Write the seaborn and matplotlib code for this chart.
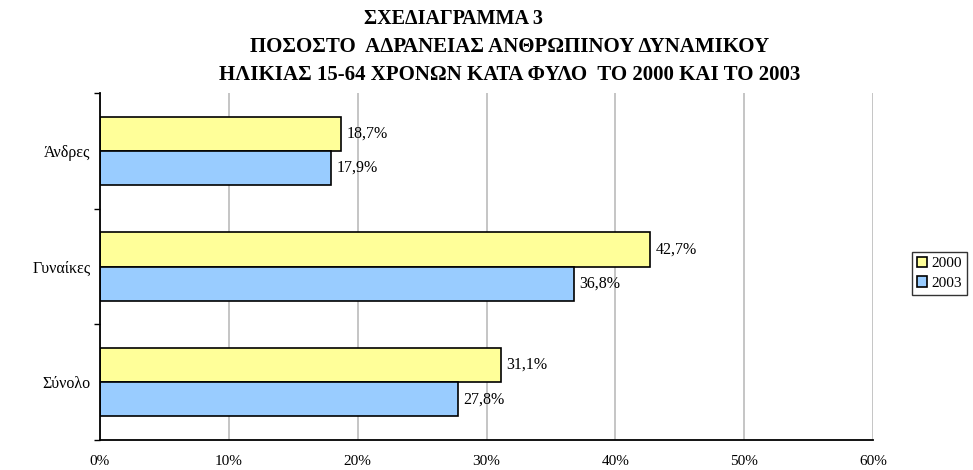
import pandas as pd
import seaborn as sns
import matplotlib.pyplot as plt
from matplotlib.ticker import FixedLocator, PercentFormatter

categories = ['Άνδρες', 'Γυναίκες', 'Σύνολο']
years = ['2000', '2003']
values_2000 = [18.7, 42.7, 31.1]
values_2003 = [17.9, 36.8, 27.8]
title_lines = ['ΣΧΕΔΙΑΓΡΑΜΜΑ 3',
               'ΠΟΣΟΣΤΟ  ΑΔΡΑΝΕΙΑΣ ΑΝΘΡΩΠΙΝΟΥ ΔΥΝΑΜΙΚΟΥ',
               'ΗΛΙΚΙΑΣ 15-64 ΧΡΟΝΩΝ ΚΑΤΑ ΦΥΛΟ  ΤΟ 2000 ΚΑΙ ΤΟ 2003']

df = pd.DataFrame({
    'cat': categories * 2,
    'year': [years[0]] * 3 + [years[1]] * 3,
    'val': values_2000 + values_2003,
})

sns.set_style('white')
plt.rcParams['font.family'] = ['Liberation Serif', 'DejaVu Serif']
plt.rcParams['text.color'] = 'black'
plt.rcParams['xtick.color'] = 'black'
plt.rcParams['ytick.color'] = 'black'
plt.rcParams['axes.labelcolor'] = 'black'

fig = plt.figure(figsize=(9.73, 4.70), dpi=100)
ax = fig.add_axes([100/973, 1 - 440/470, 773/973, 347/470])

sns.barplot(data=df, y='cat', x='val', hue='year', orient='h',
            palette=['#FFFF99', '#99CCFF'], edgecolor='black', linewidth=1.2,
            width=0.59, ax=ax, saturation=1)

for cont in ax.containers:
    ax.bar_label(cont, labels=[f'{v:.1f}%'.replace('.', ',') for v in cont.datavalues],
                 padding=4, fontsize=11.5, color='black')

ax.set_xlim(0, 60)
ax.set_ylim(2.5, -0.5)
ax.set_xticks(range(0, 61, 10))
ax.xaxis.set_major_formatter(PercentFormatter(decimals=0))
ax.grid(axis='x', color='#c0c0c0', linewidth=1.3)
ax.set_axisbelow(True)
ax.set_xlabel('')
ax.set_ylabel('')
ax.tick_params(axis='x', direction='out', length=4, width=1, labelsize=11, pad=7)
ax.tick_params(axis='y', which='major', length=0, labelsize=11.5, pad=7)
ax.yaxis.set_minor_locator(FixedLocator([-0.5, 0.5, 1.5, 2.5]))
ax.tick_params(axis='y', which='minor', direction='out', length=4, width=1, left=True)
for s in ['top', 'right']:
    ax.spines[s].set_visible(False)
for s in ['left', 'bottom']:
    ax.spines[s].set_color('black')
    ax.spines[s].set_linewidth(1.3)

leg = ax.legend(loc='center left', bbox_to_anchor=(812/773, 0.48),
                fontsize=11, frameon=True, fancybox=False, handlelength=0.7,
                handleheight=0.7, handletextpad=0.3, borderpad=0.3,
                labelspacing=0.4, borderaxespad=0)
leg.get_frame().set_edgecolor('black')
leg.get_frame().set_linewidth(1)
for h in leg.legend_handles:
    h.set_edgecolor('black')
    h.set_linewidth(1.2)

fig.text(453/973, 1 - 19/470, title_lines[0], ha='center', va='center',
         fontsize=14.5, fontweight='bold')
fig.text(510/973, 1 - 47/470, title_lines[1], ha='center', va='center',
         fontsize=15, fontweight='bold')
fig.text(510/973, 1 - 75/470, title_lines[2], ha='center', va='center',
         fontsize=15, fontweight='bold')

fig.savefig('out.png', dpi=100)
